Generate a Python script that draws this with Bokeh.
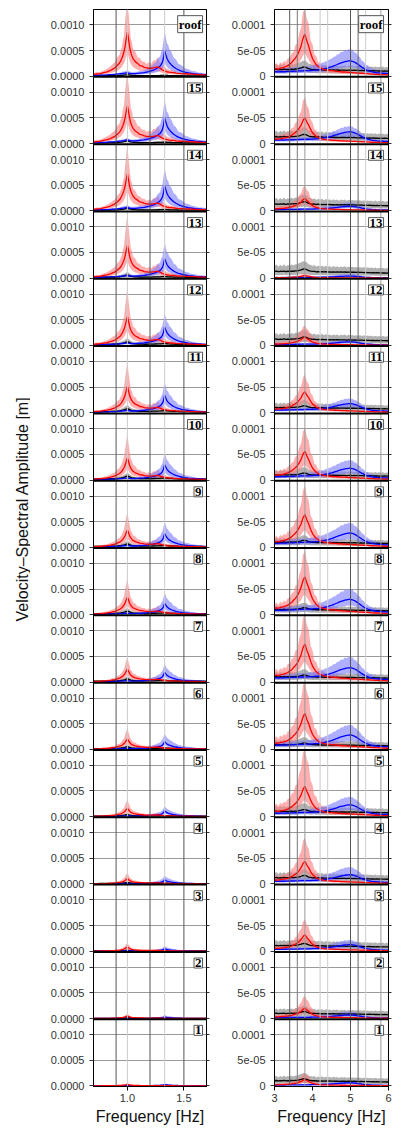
import numpy as np
from bokeh.plotting import figure
from bokeh.layouts import row
from bokeh.models import Range1d, FixedTicker, LinearAxis, Label, Span
from bokeh.embed import file_html
from bokeh.resources import INLINE
from bokeh.core.properties import value

# ---------------- data ----------------
floors = ["roof", "15", "14", "13", "12", "11", "10", "9", "8", "7", "6", "5", "4", "3", "2", "1"]

# left column (first modes, Hz)
freq_L = [0.70, 0.73, 0.76, 0.79, 0.82, 0.85, 0.87, 0.89, 0.91,
          0.93, 0.94, 0.95, 0.96, 0.97, 0.98, 0.99, 1.00, 1.01,
          1.02, 1.03, 1.04, 1.05, 1.07, 1.09, 1.11, 1.13, 1.15,
          1.17, 1.19, 1.21, 1.23, 1.25, 1.27, 1.29, 1.30, 1.31,
          1.32, 1.33, 1.34, 1.35, 1.36, 1.37, 1.39, 1.41, 1.43,
          1.45, 1.48, 1.51, 1.54, 1.57, 1.60, 1.63, 1.66, 1.70]
red_mean_shape_L = [0.04, 0.05, 0.06, 0.08, 0.10, 0.13, 0.16, 0.19, 0.24,
                    0.30, 0.34, 0.40, 0.47, 0.56, 0.68, 0.85, 1.00, 0.84,
                    0.66, 0.54, 0.46, 0.40, 0.33, 0.29, 0.24, 0.23, 0.20,
                    0.19, 0.18, 0.18, 0.19, 0.20, 0.21, 0.18, 0.16, 0.14,
                    0.13, 0.12, 0.11, 0.10, 0.095, 0.09, 0.085, 0.08, 0.07,
                    0.065, 0.06, 0.055, 0.05, 0.045, 0.04, 0.035, 0.03, 0.03]
red_hi_shape_L = [0.04, 0.05, 0.05, 0.07, 0.09, 0.12, 0.15, 0.17, 0.23,
                  0.26, 0.31, 0.35, 0.44, 0.50, 0.68, 0.84, 1.00, 0.78,
                  0.62, 0.46, 0.42, 0.33, 0.30, 0.23, 0.22, 0.18, 0.18,
                  0.15, 0.17, 0.15, 0.19, 0.19, 0.23, 0.16, 0.16, 0.12,
                  0.13, 0.10, 0.11, 0.085, 0.09, 0.075, 0.08, 0.065, 0.065,
                  0.05, 0.055, 0.042, 0.045, 0.036, 0.038, 0.03, 0.032, 0.025]
blue_mean_shape_L = [0.03, 0.035, 0.04, 0.045, 0.05, 0.06, 0.065, 0.07, 0.08,
                     0.09, 0.095, 0.10, 0.105, 0.11, 0.12, 0.13, 0.14, 0.12,
                     0.11, 0.10, 0.10, 0.10, 0.10, 0.11, 0.12, 0.13, 0.14,
                     0.16, 0.18, 0.21, 0.24, 0.28, 0.33, 0.40, 0.46, 0.55,
                     0.72, 1.00, 0.84, 0.70, 0.61, 0.54, 0.44, 0.36, 0.30,
                     0.25, 0.20, 0.16, 0.13, 0.11, 0.09, 0.08, 0.07, 0.06]
blue_hi_shape_L = [0.03, 0.03, 0.04, 0.04, 0.05, 0.05, 0.06, 0.07, 0.07,
                   0.08, 0.09, 0.09, 0.11, 0.10, 0.12, 0.12, 0.14, 0.11,
                   0.11, 0.09, 0.10, 0.09, 0.10, 0.10, 0.12, 0.12, 0.14,
                   0.16, 0.20, 0.22, 0.28, 0.31, 0.40, 0.45, 0.56, 0.62,
                   0.82, 1.00, 0.88, 0.74, 0.72, 0.62, 0.55, 0.42, 0.38,
                   0.28, 0.25, 0.18, 0.16, 0.12, 0.11, 0.08, 0.08, 0.06]
black_shape_L = [0.25, 0.25, 0.28, 0.28, 0.30, 0.32, 0.34, 0.36, 0.40,
                 0.45, 0.50, 0.56, 0.62, 0.70, 0.80, 0.92, 1.00, 0.90,
                 0.76, 0.64, 0.56, 0.50, 0.44, 0.40, 0.37, 0.35, 0.34,
                 0.34, 0.35, 0.36, 0.38, 0.40, 0.42, 0.44, 0.46, 0.48,
                 0.50, 0.52, 0.50, 0.47, 0.44, 0.42, 0.39, 0.36, 0.34,
                 0.32, 0.30, 0.28, 0.27, 0.26, 0.25, 0.24, 0.24, 0.23]

# per-floor peak amplitudes, left column (x 1e-4 m)
red_mean_L = [8.6, 7.4, 7.2, 6.4, 5.6, 5.1, 4.3, 3.4, 3.4, 2.5, 2.0, 1.6, 1.0, 0.8, 0.5, 0.3]
red_hi_L = [16.0, 15.0, 13.0, 12.7, 11.2, 10.0, 9.0, 7.0, 7.2, 5.0, 4.2, 3.4, 2.2, 1.6, 0.9, 0.5]
red_lo_L = [4.5, 4.0, 3.8, 3.3, 2.9, 2.6, 2.2, 1.7, 1.7, 1.3, 1.0, 0.8, 0.5, 0.4, 0.25, 0.15]
blue_mean_L = [5.0, 5.0, 4.9, 3.8, 3.6, 3.4, 3.0, 2.7, 2.2, 1.9, 1.5, 1.1, 0.8, 0.5, 0.3, 0.3]
blue_hi_L = [8.6, 8.3, 8.2, 6.8, 6.2, 5.8, 5.2, 4.9, 4.2, 3.5, 3.0, 2.0, 1.6, 1.0, 0.7, 0.4]
blue_lo_L = [2.6, 2.6, 2.5, 2.0, 1.9, 1.8, 1.5, 1.4, 1.1, 1.0, 0.8, 0.6, 0.4, 0.25, 0.15, 0.15]
black_mean_L = [0.3, 0.5, 0.5, 0.6, 0.7, 0.8, 0.8, 0.7, 0.7, 0.6, 0.5, 0.4, 0.3, 0.2, 0.15, 0.1]
grey_hi_L = [0.6, 1.0, 1.0, 1.2, 1.4, 1.5, 1.4, 1.3, 1.3, 1.1, 0.9, 0.7, 0.5, 0.4, 0.3, 0.2]
grey_lo_L = [0.1, 0.2, 0.2, 0.2, 0.3, 0.3, 0.3, 0.3, 0.3, 0.2, 0.2, 0.15, 0.1, 0.1, 0.05, 0.05]

# right column (higher modes, Hz)
freq_R = [3.00, 3.05, 3.10, 3.15, 3.20, 3.25, 3.30, 3.35, 3.40, 3.45,
          3.50, 3.55, 3.60, 3.65, 3.70, 3.75, 3.80, 3.85, 3.90, 3.95,
          4.00, 4.05, 4.10, 4.15, 4.20, 4.25, 4.30, 4.35, 4.40, 4.45,
          4.50, 4.55, 4.60, 4.65, 4.70, 4.75, 4.80, 4.85, 4.90, 4.95,
          5.00, 5.05, 5.10, 5.15, 5.20, 5.25, 5.30, 5.35, 5.40, 5.45,
          5.50, 5.55, 5.60, 5.65, 5.70, 5.75, 5.80, 5.85, 5.90, 5.95,
          6.00]
red_mean_shape_R = [0.17, 0.18, 0.17, 0.19, 0.20, 0.21, 0.23, 0.25, 0.29, 0.32,
                    0.38, 0.43, 0.50, 0.60, 0.72, 0.90, 1.00, 0.84, 0.71, 0.55,
                    0.42, 0.34, 0.27, 0.23, 0.20, 0.18, 0.16, 0.15, 0.14, 0.135,
                    0.13, 0.125, 0.12, 0.115, 0.11, 0.105, 0.10, 0.10, 0.095, 0.09,
                    0.09, 0.085, 0.08, 0.08, 0.075, 0.07, 0.07, 0.065, 0.06, 0.06,
                    0.055, 0.05, 0.05, 0.045, 0.045, 0.04, 0.04, 0.035, 0.035, 0.03,
                    0.03]
red_hi_shape_R = [0.16, 0.19, 0.15, 0.20, 0.18, 0.22, 0.20, 0.26, 0.26, 0.33,
                  0.35, 0.45, 0.47, 0.62, 0.70, 0.93, 1.00, 0.83, 0.76, 0.52,
                  0.46, 0.31, 0.29, 0.20, 0.20, 0.15, 0.16, 0.12, 0.135, 0.11,
                  0.115, 0.10, 0.105, 0.09, 0.095, 0.08, 0.088, 0.075, 0.08, 0.07,
                  0.072, 0.065, 0.068, 0.06, 0.062, 0.055, 0.057, 0.05, 0.052, 0.045,
                  0.047, 0.04, 0.043, 0.04, 0.038, 0.035, 0.037, 0.032, 0.033, 0.03,
                  0.03]
blue_mean_shape_R = [0.28, 0.30, 0.28, 0.29, 0.30, 0.29, 0.30, 0.31, 0.31, 0.32,
                     0.32, 0.33, 0.33, 0.34, 0.35, 0.35, 0.36, 0.36, 0.36, 0.37,
                     0.38, 0.39, 0.40, 0.41, 0.43, 0.45, 0.47, 0.50, 0.53, 0.57,
                     0.61, 0.66, 0.71, 0.76, 0.82, 0.86, 0.90, 0.94, 0.97, 0.99,
                     1.00, 0.97, 0.92, 0.85, 0.76, 0.67, 0.58, 0.50, 0.43, 0.37,
                     0.33, 0.29, 0.26, 0.24, 0.22, 0.21, 0.20, 0.19, 0.18, 0.18,
                     0.17]
blue_hi_shape_R = [0.26, 0.30, 0.27, 0.30, 0.28, 0.31, 0.29, 0.32, 0.30, 0.33,
                   0.32, 0.35, 0.33, 0.35, 0.34, 0.37, 0.35, 0.38, 0.36, 0.39,
                   0.38, 0.42, 0.40, 0.45, 0.44, 0.49, 0.50, 0.55, 0.56, 0.62,
                   0.64, 0.71, 0.72, 0.80, 0.82, 0.90, 0.89, 0.97, 0.95, 1.00,
                   0.97, 0.98, 0.88, 0.86, 0.74, 0.70, 0.57, 0.53, 0.42, 0.40,
                   0.32, 0.31, 0.26, 0.26, 0.22, 0.23, 0.20, 0.21, 0.18, 0.19,
                   0.17]
black_shape_R = [1.00, 1.05, 0.96, 1.03, 1.00, 1.06, 0.98, 1.03, 1.00, 1.05,
                 1.03, 1.08, 1.10, 1.16, 1.25, 1.35, 1.38, 1.26, 1.12, 1.05,
                 1.00, 1.02, 0.95, 0.99, 0.94, 0.98, 0.93, 0.96, 0.92, 0.95,
                 0.91, 0.94, 0.90, 0.93, 0.89, 0.92, 0.90, 0.92, 0.88, 0.91,
                 0.90, 0.88, 0.90, 0.86, 0.88, 0.85, 0.87, 0.83, 0.86, 0.82,
                 0.84, 0.80, 0.83, 0.79, 0.81, 0.78, 0.80, 0.77, 0.79, 0.76,
                 0.77]
grey_hi_shape_R = [1.00, 1.10, 0.92, 1.08, 0.97, 1.12, 0.95, 1.06, 1.00, 1.10,
                   1.02, 1.12, 1.10, 1.22, 1.28, 1.38, 1.35, 1.30, 1.10, 1.08,
                   0.98, 1.06, 0.92, 1.02, 0.93, 1.03, 0.90, 1.00, 0.92, 0.98,
                   0.88, 0.98, 0.90, 0.97, 0.86, 0.95, 0.90, 0.96, 0.86, 0.94,
                   0.88, 0.92, 0.87, 0.90, 0.85, 0.90, 0.84, 0.90, 0.82, 0.88,
                   0.83, 0.86, 0.80, 0.87, 0.79, 0.84, 0.78, 0.85, 0.76, 0.82,
                   0.78]

# per-floor amplitudes, right column (x 1e-5 m)
red_mean_R = [8.2, 5.0, 2.4, 0.5, 1.6, 4.1, 5.6, 6.4, 7.4, 7.4, 7.0, 5.9, 4.4, 3.2, 2.0, 1.2]
red_hi_R = [13.5, 9.0, 4.9, 0.9, 3.9, 7.4, 10.2, 12.0, 12.5, 13.5, 13.5, 13.5, 9.0, 6.2, 4.4, 2.5]
red_lo_R = [4.5, 2.8, 1.3, 0.25, 0.9, 2.2, 3.0, 3.4, 4.0, 4.0, 3.8, 3.2, 2.4, 1.7, 1.1, 0.6]
blue_mean_R = [3.0, 2.3, 0.9, 0.4, 0.7, 1.8, 2.3, 2.8, 3.0, 2.8, 2.8, 2.3, 1.8, 1.3, 0.7, 0.6]
blue_hi_R = [5.3, 3.4, 1.6, 0.8, 1.2, 2.8, 3.9, 4.8, 5.0, 4.9, 4.8, 3.9, 3.3, 2.2, 1.4, 1.0]
blue_lo_R = [1.8, 1.3, 0.5, 0.2, 0.4, 1.0, 1.3, 1.6, 1.8, 1.7, 1.6, 1.3, 1.0, 0.7, 0.4, 0.3]
black_mean_R = [1.3, 1.3, 1.3, 1.3, 1.2, 1.0, 1.0, 1.0, 1.0, 1.0, 0.9, 1.0, 1.2, 1.1, 1.0, 1.0]
grey_hi_R = [2.2, 2.3, 2.3, 2.4, 2.2, 1.8, 1.8, 1.7, 1.7, 1.8, 1.7, 1.9, 2.1, 2.0, 1.8, 1.8]
grey_lo_R = [0.6, 0.6, 0.6, 0.6, 0.5, 0.4, 0.4, 0.4, 0.4, 0.4, 0.4, 0.4, 0.5, 0.5, 0.4, 0.4]

# reference frequency lines
vlines_L = [(0.9, "#555555"), (1.0, "#cccccc"), (1.2, "#555555"), (1.33, "#cccccc"), (1.5, "#555555")]
vlines_R = [(3.4, "#555555"), (3.6, "#777777"), (3.8, "#999999"), (4.2, "#cccccc"), (4.4, "#cccccc"),
            (5.0, "#555555"), (5.2, "#666666"), (5.4, "#cccccc"), (5.8, "#999999")]

yticks_L = [0.0, 0.0005, 0.001]
ylabels_L = ["0.0000", "0.0005", "0.0010"]
yticks_R = [0.0, 5e-05, 0.0001]
ylabels_R = ["0", "5e-05", "0.0001"]
xticks_L = [1.0, 1.5]
xlabels_L = ["1.0", "1.5"]
xticks_R = [3, 4, 5, 6]
xlabels_R = ["3", "4", "5", "6"]

# ---------------- layout ----------------
TOP = 9
BOTTOM = 46
FRAME_H = 1077
TOTAL_H = TOP + FRAME_H + BOTTOM
FONT = "Liberation Sans"
RED_BAND = "#ff7a7a"
BLUE_BAND = "#7a7aff"
GREY_BAND = "#7f7f7f"


def make_column(side):
    if side == "L":
        freq = np.array(freq_L)
        scale = 1e-4
        xr = (0.7, 1.7)
        pad, ptop = 0.000012, 0.0013
        width, bl, br = 190, 63, 14
        yticks, ylabels, xticks, xlabels = yticks_L, ylabels_L, xticks_L, xlabels_L
        vlines = vlines_L
        shapes = (red_mean_shape_L, red_hi_shape_L, blue_mean_shape_L, blue_hi_shape_L,
                  black_shape_L, black_shape_L)
        amps = (red_mean_L, red_hi_L, red_lo_L, blue_mean_L, blue_hi_L, blue_lo_L,
                black_mean_L, grey_hi_L, grey_lo_L)
        lab_x, lab_dy = 1.665, 0.00118
    else:
        freq = np.array(freq_R)
        scale = 1e-5
        xr = (3.0, 6.0)
        pad, ptop = 0.0000012, 0.00013
        width, bl, br = 184, 54, 16
        yticks, ylabels, xticks, xlabels = yticks_R, ylabels_R, xticks_R, xlabels_R
        vlines = vlines_R
        shapes = (red_mean_shape_R, red_hi_shape_R, blue_mean_shape_R, blue_hi_shape_R,
                  black_shape_R, grey_hi_shape_R)
        amps = (red_mean_R, red_hi_R, red_lo_R, blue_mean_R, blue_hi_R, blue_lo_R,
                black_mean_R, grey_hi_R, grey_lo_R)
        lab_x, lab_dy = 5.87, 0.000118

    span = ptop + pad
    n = len(floors)
    p = figure(width=width, height=TOTAL_H, output_backend="svg", toolbar_location=None,
               x_range=Range1d(*xr), y_range=Range1d(0, n * span),
               x_axis_location="below", y_axis_location="left",
               min_border=0, min_border_left=bl, min_border_right=br,
               min_border_top=TOP, min_border_bottom=BOTTOM)
    p.outline_line_color = "black"
    p.outline_line_width = 1
    p.background_fill_color = "white"
    p.border_fill_color = "white"
    p.xgrid.visible = False

    tick_pos, grid_pos, overrides = [], [], {}
    for i in range(n):
        off = (n - 1 - i) * span + pad
        for t, s in zip(yticks, ylabels):
            v = round(off + t, 12)
            tick_pos.append(v)
            overrides[v] = s
            if t > 0:
                grid_pos.append(v)

    p.ygrid.ticker = FixedTicker(ticks=grid_pos)
    p.ygrid.grid_line_color = "#9a9a9a"
    p.ygrid.grid_line_width = 1

    ya = p.yaxis[0]
    ya.ticker = FixedTicker(ticks=tick_pos)
    ya.major_label_overrides = overrides
    ya.major_label_text_font = FONT
    ya.major_label_text_font_size = "11px"
    ya.major_label_text_color = "#333333"
    ya.major_tick_out = 4
    ya.major_tick_in = 0
    ya.minor_tick_out = 0
    ya.minor_tick_in = 0
    ya.major_label_standoff = 5
    ya.axis_line_color = "black"
    ya.major_tick_line_color = "#333333"

    # right-hand ticks without labels
    ra = LinearAxis(ticker=FixedTicker(ticks=[], minor_ticks=tick_pos),
                    major_tick_out=0, major_tick_in=0, minor_tick_out=3, minor_tick_in=0,
                    axis_line_color="black", minor_tick_line_color="#333333")
    p.add_layout(ra, "right")

    xa = p.xaxis[0]
    xa.ticker = FixedTicker(ticks=xticks)
    xa.major_label_overrides = {t: s for t, s in zip(xticks, xlabels)}
    xa.major_label_text_font = FONT
    xa.major_label_text_font_size = "11px"
    xa.major_label_text_color = "#333333"
    xa.major_tick_out = 4
    xa.major_tick_in = 0
    xa.minor_tick_out = 0
    xa.minor_tick_in = 0
    xa.major_label_standoff = 3
    xa.axis_label = "Frequency [Hz]"
    xa.axis_label_text_font = FONT
    xa.axis_label_text_font_size = "16px"
    xa.axis_label_text_font_style = "normal"
    xa.axis_label_text_color = "#111111"
    xa.axis_label_standoff = 3
    xa.axis_line_color = "black"

    for xv, col in vlines:
        p.add_layout(Span(location=xv, dimension="height", line_color=col, line_width=1))

    rm_s, rh_s, bm_s, bh_s, k_s, gh_s = shapes
    rm, rh, rl, bm, bh, blo, km, gh, gl = amps
    for i in range(n):
        off = (n - 1 - i) * span + pad

        def lift(shape, amp):
            # values of the panel, clipped to the panel frame like a separate plot
            return np.minimum(np.array(shape) * amp * scale, ptop) + off

        p.varea(x=freq, y1=lift(k_s, gl[i]), y2=lift(gh_s, gh[i]),
                fill_color=GREY_BAND, fill_alpha=0.6)
        p.varea(x=freq, y1=lift(rm_s, rl[i]), y2=lift(rh_s, rh[i]),
                fill_color=RED_BAND, fill_alpha=0.6)
        p.varea(x=freq, y1=lift(bm_s, blo[i]), y2=lift(bh_s, bh[i]),
                fill_color=BLUE_BAND, fill_alpha=0.6)
        p.line(freq, lift(k_s, km[i]), line_color="black", line_width=1.3)
        p.line(freq, lift(bm_s, bm[i]), line_color="#0000ff", line_width=1.3)
        p.line(freq, lift(rm_s, rm[i]), line_color="#ff0000", line_width=1.3)

        p.add_layout(Label(x=lab_x, y=off + lab_dy, text=floors[i], text_font="Liberation Serif",
                           text_font_style="bold", text_font_size="13px", text_color="black",
                           text_align="right", text_baseline="top",
                           background_fill_color="white", border_line_color="#555555",
                           border_line_width=1, padding=1))

    # panel separators
    for k in range(1, n):
        p.add_layout(Span(location=k * span, dimension="width", line_color="black", line_width=2))
    return p


left_fig = make_column("L")
right_fig = make_column("R")

lab = figure(width=30, height=TOTAL_H, output_backend="svg", toolbar_location=None,
             x_range=Range1d(0, 30), y_range=Range1d(TOTAL_H, 0),
             x_axis_location=None, y_axis_location=None, min_border=0)
lab.outline_line_color = None
lab.xgrid.visible = False
lab.ygrid.visible = False
lab.text(x=[22], y=[525], text=["Velocity\u2013Spectral Amplitude [m]"], angle=np.pi / 2,
         text_align="center", text_baseline="middle", text_font=value(FONT),
         text_font_size="16px", text_color="#111111")

layout = row(lab, left_fig, right_fig)

with open("out.html", "w") as fh:
    fh.write(file_html(layout, INLINE, title="Velocity spectral amplitude"))
